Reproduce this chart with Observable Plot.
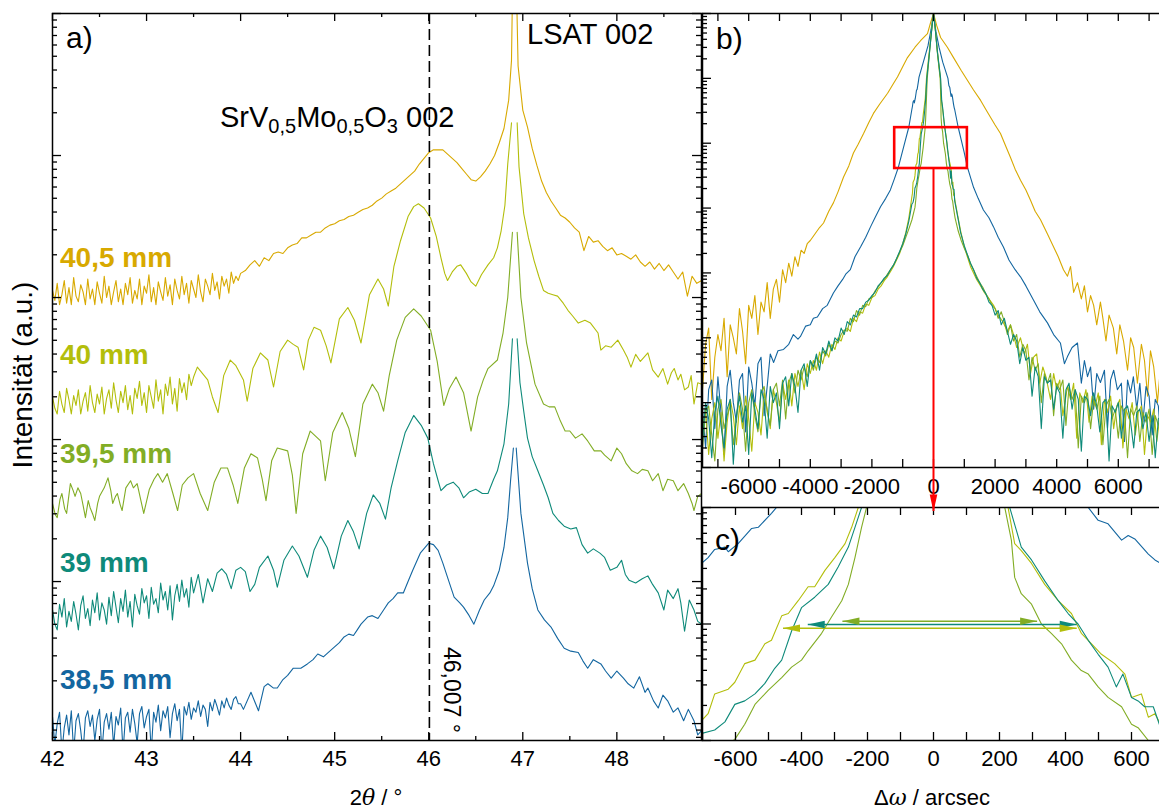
<!DOCTYPE html>
<html><head><meta charset="utf-8">
<script src="https://cdn.jsdelivr.net/npm/d3@7"></script>
<script src="https://cdn.jsdelivr.net/npm/@observablehq/plot@0.6"></script>
<style>
html,body{margin:0;padding:0;background:#fff;overflow:hidden;}
#wrap{position:relative;width:1159px;height:810px;overflow:hidden;font-family:"Liberation Sans",Arial,sans-serif;}
#wrap svg{position:absolute;}
.t{position:absolute;white-space:nowrap;line-height:1;color:#000;font-family:"Liberation Sans",Arial,sans-serif;}
</style></head><body><div id="wrap"></div>
<script>
// ---------- categories & colours ----------
const samples = ["40,5 mm", "40 mm", "39,5 mm", "39 mm", "38,5 mm"];
const colors  = ["#D8A900", "#B3BE0B", "#82AD25", "#0E8A7A", "#1366A0"];

// ---------- panel a: 2theta scans ----------
// noisy low-angle baselines: log10 intensity at 2theta = start + i*0.025 deg
const base405 = {start: 42, step: 0.025, lg: [4.05,3.98,4.10,3.95,4.02,4.12,3.96,4.07,3.95,4.14,4.01,3.97,4.09,4.04,3.95,4.13,3.99,4.06,3.95,4.11,
4.03,3.96,4.15,4.00,4.08,3.95,4.04,4.12,3.97,4.06,3.95,4.10,4.02,4.14,3.96,4.05,3.99,4.13,3.95,4.08,
4.03,4.16,3.97,4.07,3.95,4.11,4.04,3.98,4.14,4.01,4.09,3.95,4.13,4.05,3.99,4.15,4.02,4.10,3.96,4.12,
4.06,4.00,4.16,4.04,3.97,4.13,4.08,4.02,4.17,4.05,4.11,3.99,4.15,4.08,4.13,4.03,4.18,4.10,4.15,4.12]};
const base40 = {start: 42, step: 0.025, lg: [3.30,3.22,3.18,3.34,3.25,3.19,3.36,3.28,3.18,3.31,3.24,3.35,3.18,3.27,3.33,3.20,3.38,3.26,3.19,3.32,
3.25,3.37,3.18,3.29,3.35,3.22,3.40,3.28,3.19,3.34,3.26,3.38,3.21,3.31,3.18,3.36,3.29,3.41,3.24,3.33,
3.19,3.38,3.30,3.22,3.42,3.27,3.35,3.18,3.39,3.31,3.44,3.25,3.36,3.20,3.43,3.33,3.40,3.28,3.46,3.38]};
const base39 = {start: 42, step: 0.025, lg: [1.80,1.70,1.66,1.84,1.75,1.88,1.68,1.79,1.72,1.86,1.77,1.66,1.83,1.90,1.74,1.81,1.69,1.87,1.78,1.92,
1.73,1.85,1.80,1.70,1.89,1.76,1.93,1.82,1.71,1.88,1.79,1.94,1.75,1.86,1.68,1.91,1.83,1.77,1.95,1.85,
1.90,1.74,1.96,1.84,1.88,1.78,1.99,1.87,1.93,1.80,1.97,1.73,1.90,1.98,1.86,2.01,1.89,1.95,1.82,2.03]};
const base385 = {start: 42, step: 0.025, lg: [1.05,0.85,1.00,1.08,0.80,0.97,1.06,0.92,1.09,0.80,1.02,1.07,0.95,0.80,1.04,1.09,0.98,1.06,0.88,1.03,
1.10,0.80,1.01,1.07,0.96,1.08,0.84,1.05,0.99,1.11,0.80,1.04,1.08,0.94,1.10,1.00,0.86,1.07,1.12,0.97,
1.05,1.10,0.80,1.08,1.01,1.13,0.95,1.09,1.04,1.12,0.90,1.07,1.14,1.02,1.10,0.80,1.12,1.06,1.15,1.03,
1.11,1.08,1.16,1.05,1.13,1.10,0.98,1.15,1.09,1.17,1.12,1.06,1.16,1.11,1.18,1.13,1.10,1.17,1.19,1.14]};

// remaining parts: [2theta (deg), log10 intensity]; null = peak top cut off
const scan405 = [[44.00,4.17],[44.05,4.19],[44.10,4.23],[44.15,4.26],[44.20,4.22],[44.25,4.28],[44.30,4.26],[44.35,4.31],[44.40,4.32],[44.45,4.31],[44.50,4.35],[44.55,4.37],[44.60,4.38],[44.65,4.42],[44.70,4.42],[44.75,4.44],[44.80,4.46],[44.85,4.46],[44.90,4.49],[44.95,4.51],[45.00,4.52],[45.05,4.54],[45.10,4.55],[45.15,4.57],[45.20,4.58],[45.25,4.60],[45.30,4.62],[45.35,4.63],[45.40,4.65],[45.45,4.68],[45.50,4.70],[45.55,4.73],[45.60,4.75],[45.65,4.77],[45.70,4.80],[45.75,4.83],[45.80,4.86],[45.85,4.89],[45.90,4.94],[45.95,4.98],[46.00,5.02],[46.05,5.04],[46.10,5.04],[46.15,5.04],[46.20,5.01],[46.25,4.98],[46.30,4.95],[46.35,4.91],[46.40,4.87],[46.45,4.83],[46.50,4.82],[46.55,4.85],[46.60,4.89],[46.65,4.94],[46.70,5.00],[46.75,5.09],[46.80,5.19],[46.85,5.39],[46.88,5.67],[46.90,6.6],[46.92,6.6],[46.95,5.63],[47.00,5.32],[47.05,5.20],[47.10,5.05],[47.15,4.93],[47.20,4.82],[47.25,4.74],[47.30,4.68],[47.35,4.63],[47.40,4.58],[47.45,4.56],[47.50,4.53],[47.55,4.49],[47.60,4.46],[47.65,4.33],[47.70,4.43],[47.75,4.39],[47.80,4.40],[47.85,4.36],[47.90,4.33],[47.95,4.35],[48.00,4.30],[48.05,4.31],[48.10,4.29],[48.15,4.27],[48.20,4.30],[48.25,4.25],[48.30,4.22],[48.35,4.25],[48.40,4.20],[48.45,4.24],[48.50,4.19],[48.55,4.23],[48.60,4.18],[48.65,4.13],[48.70,4.18],[48.75,4.01],[48.80,4.15],[48.85,4.10],[48.90,4.12]];

const scan40 = [[43.50,3.44],[43.54,3.51],[43.60,3.46],[43.65,3.42],[43.70,3.30],[43.76,3.19],[43.82,3.45],[43.89,3.56],[43.95,3.52],[44.03,3.42],[44.07,3.27],[44.13,3.50],[44.21,3.61],[44.29,3.56],[44.35,3.37],[44.42,3.62],[44.50,3.70],[44.56,3.67],[44.61,3.65],[44.67,3.49],[44.72,3.70],[44.78,3.79],[44.85,3.77],[44.91,3.66],[44.96,3.54],[45.05,3.85],[45.14,3.93],[45.21,3.84],[45.28,3.68],[45.37,4.02],[45.46,4.13],[45.52,4.06],[45.57,3.94],[45.63,4.22],[45.70,4.40],[45.78,4.57],[45.84,4.64],[45.89,4.66],[45.95,4.63],[46.02,4.56],[46.08,4.43],[46.13,4.28],[46.17,4.17],[46.20,4.12],[46.25,4.18],[46.30,4.22],[46.34,4.23],[46.40,4.17],[46.45,4.11],[46.50,4.08],[46.56,4.16],[46.63,4.23],[46.69,4.28],[46.73,4.35],[46.77,4.47],[46.81,4.65],[46.84,4.94],[46.88,5.23],[46.91,null],[46.94,5.23],[46.96,4.92],[47.01,4.59],[47.06,4.42],[47.12,4.26],[47.17,4.15],[47.22,4.05],[47.27,4.03],[47.32,4.02],[47.37,4.01],[47.43,3.96],[47.48,3.91],[47.53,3.87],[47.59,3.82],[47.66,3.84],[47.72,3.82],[47.80,3.75],[47.83,3.63],[47.88,3.66],[47.94,3.65],[48.01,3.70],[48.07,3.63],[48.11,3.58],[48.15,3.51],[48.20,3.60],[48.25,3.55],[48.29,3.58],[48.33,3.61],[48.38,3.49],[48.44,3.44],[48.49,3.50],[48.54,3.39],[48.58,3.47],[48.61,3.50],[48.65,3.42],[48.68,3.46],[48.72,3.35],[48.76,3.37],[48.79,3.45],[48.82,3.25],[48.86,3.40],[48.90,3.39]];

const scan395 = [[42.00,2.55],[42.03,2.47],[42.05,2.45],[42.08,2.58],[42.10,2.62],[42.13,2.51],[42.15,2.48],[42.19,2.69],[42.22,2.64],[42.24,2.60],[42.27,2.66],[42.30,2.62],[42.33,2.52],[42.35,2.45],[42.38,2.57],[42.40,2.52],[42.43,2.47],[42.45,2.43],[42.48,2.55],[42.50,2.60],[42.55,2.66],[42.59,2.73],[42.62,2.64],[42.64,2.55],[42.67,2.60],[42.69,2.62],[42.72,2.54],[42.74,2.50],[42.78,2.66],[42.83,2.71],[42.86,2.66],[42.90,2.69],[42.97,2.48],[43.03,2.65],[43.08,2.72],[43.12,2.76],[43.17,2.70],[43.22,2.76],[43.28,2.62],[43.33,2.50],[43.38,2.68],[43.44,2.73],[43.50,2.76],[43.57,2.62],[43.65,2.50],[43.72,2.70],[43.79,2.80],[43.86,2.80],[43.92,2.68],[43.97,2.55],[44.04,2.80],[44.11,2.90],[44.18,2.87],[44.23,2.72],[44.27,2.57],[44.33,2.85],[44.39,2.94],[44.50,2.92],[44.55,2.75],[44.59,2.48],[44.66,2.90],[44.74,3.06],[44.85,2.99],[44.90,2.71],[44.98,3.05],[45.08,3.19],[45.15,3.08],[45.22,2.88],[45.30,3.25],[45.40,3.39],[45.46,3.33],[45.52,3.20],[45.58,3.45],[45.66,3.70],[45.75,3.86],[45.84,3.92],[45.92,3.87],[46.02,3.77],[46.09,3.55],[46.16,3.24],[46.22,3.36],[46.29,3.44],[46.37,3.33],[46.45,3.06],[46.52,3.30],[46.58,3.42],[46.63,3.50],[46.73,3.56],[46.79,3.75],[46.84,4.00],[46.89,4.46],[46.915,null],[46.94,4.46],[46.98,4.00],[47.04,3.68],[47.13,3.39],[47.22,3.25],[47.28,3.23],[47.34,3.23],[47.40,3.13],[47.45,3.06],[47.50,3.06],[47.56,3.01],[47.63,3.04],[47.69,2.99],[47.76,2.92],[47.83,2.92],[47.87,2.89],[47.94,2.85],[48.00,2.94],[48.05,2.90],[48.10,2.83],[48.16,2.78],[48.22,2.76],[48.27,2.79],[48.33,2.78],[48.38,2.71],[48.44,2.76],[48.49,2.64],[48.54,2.72],[48.60,2.71],[48.65,2.64],[48.71,2.69],[48.76,2.62],[48.80,2.55],[48.82,2.50],[48.86,2.60],[48.90,2.62]];

const scan39 = [[43.50,1.92],[43.55,2.05],[43.60,1.85],[43.65,2.02],[43.70,1.93],[43.75,2.06],[43.80,2.09],[43.85,2.05],[43.90,1.95],[43.95,2.08],[44.00,2.10],[44.05,2.07],[44.10,1.93],[44.15,1.98],[44.20,2.10],[44.29,2.18],[44.35,2.08],[44.39,1.96],[44.46,2.15],[44.55,2.25],[44.62,2.18],[44.71,2.03],[44.78,2.22],[44.85,2.32],[44.92,2.24],[44.99,2.09],[45.07,2.32],[45.14,2.43],[45.20,2.35],[45.26,2.23],[45.34,2.48],[45.41,2.61],[45.48,2.55],[45.54,2.44],[45.60,2.66],[45.67,2.85],[45.75,3.05],[45.84,3.17],[45.92,3.10],[45.99,3.01],[46.05,2.83],[46.10,2.71],[46.13,2.64],[46.19,2.68],[46.26,2.70],[46.32,2.66],[46.37,2.59],[46.43,2.63],[46.50,2.65],[46.57,2.62],[46.63,2.62],[46.69,2.72],[46.73,2.78],[46.80,2.97],[46.85,3.25],[46.89,3.71],[46.915,null],[46.94,3.71],[46.97,3.40],[47.01,3.20],[47.05,3.01],[47.10,2.88],[47.16,2.78],[47.22,2.68],[47.27,2.59],[47.32,2.48],[47.38,2.43],[47.44,2.39],[47.51,2.37],[47.57,2.38],[47.63,2.26],[47.69,2.20],[47.75,2.23],[47.82,2.20],[47.87,2.17],[47.93,2.08],[48.00,2.10],[48.05,2.15],[48.09,2.05],[48.13,2.01],[48.20,1.99],[48.27,2.02],[48.33,2.04],[48.38,1.98],[48.44,1.92],[48.50,1.80],[48.54,1.94],[48.60,1.88],[48.65,1.95],[48.68,1.85],[48.72,1.65],[48.77,1.87],[48.82,1.80],[48.86,1.72],[48.90,1.70]];

const scan385 = [[44.00,1.14],[44.03,1.10],[44.11,1.22],[44.19,1.09],[44.25,1.26],[44.29,1.28],[44.35,1.25],[44.39,1.25],[44.45,1.31],[44.50,1.34],[44.56,1.39],[44.64,1.39],[44.71,1.42],[44.77,1.45],[44.82,1.49],[44.88,1.47],[44.93,1.50],[44.99,1.535],[45.05,1.57],[45.10,1.61],[45.15,1.63],[45.20,1.62],[45.24,1.66],[45.28,1.70],[45.35,1.75],[45.40,1.76],[45.46,1.74],[45.52,1.80],[45.57,1.85],[45.62,1.88],[45.67,1.92],[45.73,1.92],[45.78,2.00],[45.83,2.08],[45.91,2.20],[46.00,2.27],[46.05,2.26],[46.10,2.22],[46.15,2.13],[46.20,2.03],[46.27,1.89],[46.33,1.85],[46.37,1.82],[46.43,1.76],[46.48,1.70],[46.54,1.80],[46.59,1.87],[46.65,1.92],[46.69,1.97],[46.75,2.08],[46.80,2.24],[46.84,2.45],[46.87,2.71],[46.90,2.94],[46.915,null],[46.93,2.94],[46.98,2.48],[47.05,2.13],[47.10,1.95],[47.16,1.80],[47.23,1.73],[47.30,1.68],[47.37,1.60],[47.44,1.53],[47.51,1.51],[47.59,1.50],[47.64,1.44],[47.69,1.39],[47.75,1.45],[47.83,1.42],[47.88,1.37],[47.94,1.32],[48.00,1.37],[48.07,1.32],[48.12,1.28],[48.18,1.25],[48.24,1.33],[48.30,1.22],[48.33,1.25],[48.39,1.16],[48.44,1.11],[48.49,1.20],[48.54,1.16],[48.60,1.08],[48.65,1.11],[48.71,1.02],[48.76,1.10],[48.82,1.02],[48.86,0.92],[48.90,0.95]];

// ---------- panels b & c: rocking curves, [delta omega (arcsec), log10 intensity] ----------
const rc405 = [[-7500,1.20],[-7400,1.90],[-7300,2.15],[-7200,1.05],[-7100,1.70],[-7000,2.05],[-6900,1.80],[-6800,2.30],[-6700,1.40],[-6600,2.20],[-6500,2.00],[-6400,1.75],[-6300,2.45],[-6200,2.10],[-6100,1.60],[-6000,2.50],[-5900,2.30],[-5800,2.65],[-5700,2.05],[-5600,2.55],[-5500,2.40],[-5400,2.85],[-5300,2.30],[-5200,2.75],[-5100,2.90],[-5000,2.55],[-4900,3.05],[-4800,2.85],[-4700,3.15],[-4600,2.95],[-4500,3.25],[-4400,3.10],[-4300,3.35],[-4200,3.30],[-4100,3.45],[-4000,3.50],[-3850,3.60],[-3700,3.70],[-3570,3.77],[-3400,3.95],[-3250,4.08],[-3100,4.25],[-2920,4.48],[-2750,4.65],[-2600,4.85],[-2450,4.98],[-2270,5.15],[-2100,5.32],[-1950,5.46],[-1750,5.60],[-1490,5.77],[-1300,5.92],[-1170,6.02],[-1000,6.18],[-845,6.32],[-600,6.48],[-420,6.58],[-300,6.64],[-195,6.69],[-100,6.85],[0,7.0],[100,6.82],[230,6.63],[450,6.48],[650,6.32],[900,6.12],[1100,5.97],[1300,5.82],[1530,5.66],[1700,5.52],[1850,5.40],[2000,5.28],[2175,5.15],[2350,4.95],[2500,4.78],[2650,4.60],[2825,4.43],[3000,4.28],[3150,4.12],[3300,3.95],[3475,3.82],[3700,3.60],[3900,3.40],[4050,3.25],[4220,3.05],[4350,2.95],[4450,3.10],[4550,2.70],[4675,2.85],[4800,2.60],[4900,2.80],[5000,2.40],[5100,2.65],[5200,2.50],[5300,2.20],[5420,2.55],[5500,2.30],[5600,1.95],[5700,2.35],[5840,2.15],[5950,1.75],[6050,2.20],[6170,1.95],[6300,1.50],[6400,2.00],[6500,1.85],[6620,1.30],[6750,1.90],[6850,1.65],[6950,1.10],[7045,1.80],[7150,1.55],[7270,1.00],[7400,1.70],[7500,1.45]];

const rc40 = [[-7500,0.55],[-7400,0.90],[-7300,0.20],[-7200,0.75],[-7100,1.00],[-7000,0.45],[-6900,0.85],[-6800,0.10],[-6700,0.70],[-6600,1.05],[-6500,0.80],[-6400,0.35],[-6300,0.95],[-6200,0.60],[-6100,1.10],[-6000,0.75],[-5900,0.25],[-5800,1.00],[-5700,0.85],[-5600,0.50],[-5500,1.15],[-5400,0.90],[-5300,0.60],[-5200,1.20],[-5100,1.00],[-5000,0.70],[-4900,1.30],[-4800,1.05],[-4700,1.35],[-4600,0.95],[-4500,1.45],[-4400,1.25],[-4300,1.50],[-4200,1.20],[-4100,1.60],[-4000,1.45],[-3900,1.65],[-3800,1.50],[-3700,1.78],[-3600,1.60],[-3500,1.80],[-3400,1.70],[-3300,1.90],[-3200,1.82],[-3100,2.00],[-3000,1.95],[-2900,2.10],[-2800,2.15],[-2700,2.10],[-2600,2.30],[-2500,2.25],[-2400,2.40],[-2300,2.38],[-2200,2.52],[-2100,2.50],[-2000,2.62],[-1900,2.65],[-1800,2.75],[-1700,2.80],[-1600,2.88],[-1500,2.94],[-1400,3.02],[-1300,3.10],[-1200,3.20],[-1100,3.30],[-1000,3.45],[-900,3.62],[-800,3.85],[-703,4.17],[-683,4.23],[-663,4.40],[-622,4.44],[-602,4.50],[-572,4.66],[-541,4.69],[-511,4.83],[-491,4.86],[-460,5.07],[-440,5.09],[-410,5.20],[-380,5.32],[-360,5.32],[-329,5.46],[-299,5.57],[-268,5.69],[-248,5.83],[-228,6.00],[-150,6.35],[-60,6.75],[0,7.0],[60,6.75],[150,6.30],[226,6.00],[246,5.69],[266,5.63],[297,5.52],[337,5.34],[378,5.20],[418,5.09],[448,4.92],[479,4.83],[509,4.74],[549,4.66],[580,4.57],[600,4.37],[630,4.40],[651,4.20],[671,4.23],[688,4.14],[780,3.90],[880,3.65],[1000,3.40],[1100,3.25],[1200,3.10],[1300,3.00],[1400,2.90],[1530,2.80],[1650,2.70],[1800,2.60],[1950,2.50],[2100,2.35],[2250,2.25],[2400,2.10],[2500,2.20],[2600,2.05],[2700,1.85],[2825,2.00],[2950,1.75],[3050,1.90],[3150,1.45],[3250,1.70],[3350,1.75],[3450,1.30],[3550,1.55],[3650,1.40],[3800,1.05],[3900,1.45],[4000,1.20],[4100,1.35],[4200,0.80],[4350,1.25],[4450,1.05],[4550,1.30],[4650,0.45],[4750,1.15],[4850,1.00],[4950,1.20],[5050,0.70],[5150,1.10],[5250,0.95],[5350,1.15],[5450,0.35],[5550,1.05],[5650,0.85],[5750,1.10],[5850,0.60],[5950,0.95],[6050,1.05],[6150,0.30],[6250,0.90],[6350,0.75],[6450,1.00],[6550,0.50],[6650,0.85],[6750,0.95],[6850,0.20],[6950,0.80],[7050,0.70],[7150,0.90],[7250,0.40],[7350,0.80],[7450,0.65],[7500,0.75]];

const rc395 = [[-7500,0.30],[-7400,0.85],[-7300,0.95],[-7200,0.50],[-7100,0.10],[-7000,0.90],[-6900,1.05],[-6800,0.60],[-6700,0.80],[-6600,0.95],[-6500,0.35],[-6400,0.75],[-6300,1.15],[-6200,0.90],[-6100,0.25],[-6000,1.00],[-5900,1.20],[-5800,0.80],[-5700,0.55],[-5600,1.15],[-5500,1.25],[-5400,0.85],[-5300,0.65],[-5200,1.20],[-5100,1.30],[-5000,0.95],[-4900,1.35],[-4800,0.75],[-4700,1.30],[-4600,1.45],[-4500,1.15],[-4400,1.50],[-4300,1.35],[-4200,1.55],[-4100,1.40],[-4000,1.65],[-3900,1.50],[-3800,1.70],[-3700,1.62],[-3600,1.80],[-3500,1.72],[-3400,1.90],[-3300,1.80],[-3200,1.95],[-3100,1.92],[-3000,2.05],[-2900,2.12],[-2800,2.10],[-2700,2.30],[-2600,2.25],[-2500,2.42],[-2400,2.35],[-2300,2.50],[-2200,2.48],[-2100,2.60],[-2000,2.62],[-1900,2.72],[-1800,2.78],[-1700,2.85],[-1600,2.90],[-1500,2.98],[-1400,3.05],[-1300,3.12],[-1200,3.22],[-1100,3.32],[-1000,3.42],[-900,3.55],[-800,3.68],[-700,3.82],[-602,4.01],[-572,4.14],[-541,4.31],[-501,4.43],[-460,4.54],[-430,4.63],[-400,4.69],[-380,4.77],[-339,4.92],[-309,5.06],[-278,5.20],[-258,5.34],[-238,5.57],[-218,5.83],[-203,6.00],[-120,6.45],[-50,6.80],[0,7.0],[50,6.80],[120,6.42],[216,6.00],[236,5.72],[246,5.40],[266,5.26],[297,5.17],[327,5.00],[357,4.92],[388,4.83],[418,4.69],[448,4.60],[469,4.57],[499,4.46],[529,4.37],[570,4.29],[600,4.14],[620,4.11],[651,4.00],[700,3.85],[800,3.65],[900,3.50],[1000,3.38],[1100,3.28],[1200,3.15],[1300,3.05],[1400,2.95],[1500,2.85],[1600,2.78],[1700,2.68],[1800,2.60],[1900,2.50],[2000,2.45],[2100,2.30],[2200,2.40],[2300,2.25],[2400,2.05],[2500,2.20],[2600,1.95],[2700,2.05],[2800,1.70],[2900,1.90],[3000,1.80],[3100,1.35],[3200,1.70],[3300,1.50],[3400,1.60],[3500,1.00],[3600,1.45],[3700,1.30],[3800,1.45],[3900,0.80],[4000,1.30],[4100,1.20],[4200,1.35],[4300,0.65],[4400,1.25],[4500,1.05],[4600,1.20],[4700,0.30],[4800,1.10],[4900,1.00],[5000,1.15],[5100,0.60],[5200,1.05],[5300,0.90],[5400,1.10],[5500,0.35],[5600,0.95],[5700,1.05],[5800,0.75],[5900,0.90],[6000,0.45],[6100,0.95],[6200,0.85],[6300,0.15],[6400,0.90],[6500,0.80],[6600,0.95],[6700,0.40],[6800,0.85],[6900,0.70],[7000,0.90],[7100,0.20],[7200,0.80],[7300,0.65],[7400,0.85],[7500,0.50]];

const rc39 = [[-7500,0.40],[-7400,1.00],[-7300,0.75],[-7200,0.15],[-7100,0.85],[-7000,1.10],[-6900,0.65],[-6800,0.30],[-6700,0.90],[-6600,1.05],[-6500,0.05],[-6400,0.80],[-6300,1.10],[-6200,0.70],[-6100,0.95],[-6000,0.20],[-5900,1.15],[-5800,0.90],[-5700,0.60],[-5600,1.20],[-5500,1.05],[-5400,0.45],[-5300,1.25],[-5200,1.00],[-5100,1.15],[-5000,0.60],[-4900,1.30],[-4800,1.40],[-4700,0.95],[-4600,1.45],[-4500,1.25],[-4400,0.85],[-4300,1.50],[-4200,1.60],[-4100,1.25],[-4000,1.65],[-3900,1.55],[-3800,1.75],[-3700,1.50],[-3600,1.85],[-3500,1.75],[-3400,1.95],[-3300,1.80],[-3200,2.00],[-3100,1.95],[-3000,2.15],[-2900,2.05],[-2800,2.25],[-2700,2.20],[-2600,2.35],[-2500,2.32],[-2400,2.45],[-2300,2.45],[-2200,2.55],[-2100,2.58],[-2000,2.65],[-1900,2.70],[-1800,2.80],[-1700,2.85],[-1600,2.92],[-1500,2.96],[-1400,3.05],[-1300,3.12],[-1200,3.22],[-1100,3.33],[-1000,3.45],[-900,3.60],[-800,3.80],[-703,4.06],[-663,4.09],[-632,4.16],[-602,4.31],[-572,4.34],[-541,4.40],[-511,4.49],[-481,4.62],[-460,4.69],[-430,4.94],[-400,5.14],[-360,5.23],[-319,5.34],[-289,5.49],[-258,5.66],[-238,5.83],[-218,6.00],[-130,6.40],[-50,6.78],[0,7.0],[50,6.80],[130,6.40],[231,6.00],[266,5.66],[297,5.55],[337,5.37],[378,5.20],[408,5.09],[438,5.00],[469,4.86],[499,4.74],[529,4.63],[554,4.46],[574,4.57],[600,4.37],[620,4.34],[640,4.29],[666,4.29],[688,4.11],[780,3.88],[880,3.62],[1000,3.42],[1100,3.28],[1200,3.15],[1300,3.05],[1400,2.92],[1500,2.85],[1600,2.75],[1700,2.68],[1800,2.55],[1900,2.50],[2000,2.35],[2100,2.42],[2200,2.20],[2300,2.30],[2400,2.10],[2500,1.90],[2600,2.05],[2700,1.95],[2800,1.60],[2900,1.85],[3000,1.65],[3100,1.70],[3200,1.10],[3300,1.55],[3400,1.40],[3500,0.60],[3600,1.40],[3700,1.30],[3800,1.35],[3900,0.90],[4000,1.25],[4100,1.15],[4200,0.45],[4300,1.20],[4400,1.30],[4500,0.90],[4600,1.20],[4700,1.05],[4800,0.25],[4900,1.10],[5000,1.05],[5100,0.80],[5200,1.15],[5300,0.95],[5400,0.55],[5500,1.00],[5600,1.05],[5700,0.10],[5800,0.95],[5900,0.85],[6000,1.00],[6100,0.45],[6200,0.90],[6300,0.95],[6400,0.70],[6500,0.30],[6600,0.85],[6700,0.90],[6800,0.60],[6900,0.85],[7000,0.40],[7100,0.80],[7200,0.15],[7300,0.75],[7400,0.80],[7500,0.45]];

const rc385 = [[-7500,0.90],[-7400,0.30],[-7300,1.20],[-7200,1.35],[-7100,0.60],[-7000,1.40],[-6900,0.85],[-6800,0.20],[-6700,1.25],[-6600,1.50],[-6500,1.00],[-6400,0.70],[-6300,1.35],[-6200,1.45],[-6100,0.55],[-6000,1.55],[-5900,1.30],[-5800,0.95],[-5700,1.60],[-5600,1.70],[-5500,0.80],[-5400,1.25],[-5300,1.75],[-5190,1.62],[-5050,1.80],[-4870,1.82],[-4700,1.90],[-4550,2.05],[-4400,1.98],[-4320,2.02],[-4150,2.18],[-4000,2.20],[-3900,2.30],[-3770,2.32],[-3600,2.45],[-3450,2.50],[-3250,2.69],[-3100,2.80],[-2950,2.90],[-2850,2.98],[-2700,3.05],[-2550,3.25],[-2370,3.40],[-2200,3.55],[-2045,3.71],[-1900,3.85],[-1720,4.02],[-1550,4.15],[-1400,4.28],[-1270,4.45],[-1140,4.63],[-1020,4.85],[-910,5.05],[-800,5.25],[-703,5.52],[-683,5.57],[-663,5.64],[-632,5.66],[-622,5.62],[-592,5.69],[-551,5.82],[-531,5.83],[-491,5.95],[-470,6.02],[-300,6.30],[-180,6.50],[-80,6.75],[0,7.0],[80,6.72],[180,6.48],[300,6.25],[469,6.00],[499,5.89],[529,5.86],[570,5.72],[590,5.76],[610,5.73],[651,5.60],[671,5.55],[688,5.52],[800,5.25],[900,5.05],[1000,4.85],[1100,4.63],[1300,4.32],[1450,4.15],[1620,3.97],[1800,3.85],[1950,3.71],[2100,3.55],[2270,3.40],[2450,3.20],[2650,3.05],[2825,2.94],[3000,2.80],[3250,2.58],[3450,2.40],[3700,2.23],[3900,2.05],[4120,1.92],[4250,1.60],[4350,1.71],[4500,1.85],[4675,1.92],[4800,1.30],[4900,1.65],[5000,1.40],[5100,1.55],[5200,0.90],[5300,1.45],[5420,1.31],[5550,1.50],[5650,0.60],[5750,1.35],[5850,1.50],[5970,1.20],[6100,1.30],[6200,0.40],[6300,1.35],[6400,1.15],[6490,1.40],[6600,0.90],[6700,1.30],[6800,0.70],[6900,1.25],[7000,1.10],[7100,0.50],[7200,1.05],[7300,0.95],[7400,0.30],[7500,0.85]];

// ---------- annotations ----------
const peakPosition = 46.007;                 // deg, dashed line
const twoThetaTicks = [42, 43, 44, 45, 46, 47, 48];
const omegaTicksB = [-6000, -4000, -2000, 0, 2000, 4000, 6000];
const omegaTicksC = [-600, -400, -200, 0, 200, 400, 600];
const zoomBox = {x1: -1260, x2: 1100, lg1: 4.61, lg2: 5.24};
const zoomArrow = {x: 0, lgFrom: 4.61, lgTo: -0.68};
const widthArrows = [
  {sample: "39,5 mm", left: -276, right: 314, lg: 5.024},
  {sample: "39 mm",   left: -381, right: 434, lg: 4.996},
  {sample: "40 mm",   left: -456, right: 434, lg: 4.964}
];

// ---------- build tables ----------
const toRows = (arr, sample) => arr.map(([x, lg]) => ({x, y: lg == null ? NaN : Math.pow(10, lg), sample}));
const baseRows = (b, sample) => b.lg.map((lg, i) => ({x: b.start + i * b.step, y: Math.pow(10, lg), sample}));
const scanRows = [].concat(
  baseRows(base405, samples[0]), toRows(scan405, samples[0]),
  baseRows(base40, samples[1]), toRows(scan40, samples[1]),
  toRows(scan395, samples[2]),
  baseRows(base39, samples[3]), toRows(scan39, samples[3]),
  baseRows(base385, samples[4]), toRows(scan385, samples[4]));
const rcRows = [].concat(toRows(rc405, samples[0]), toRows(rc385, samples[4]), toRows(rc40, samples[1]), toRows(rc395, samples[2]), toRows(rc39, samples[3]));
const color = {domain: samples, range: colors};
const colorOf = s => colors[samples.indexOf(s)];

function logTicks(lo, hi) {
  const major = [], minor = [];
  for (let e = Math.floor(Math.log10(lo)); e <= Math.ceil(Math.log10(hi)); e++) {
    const b = Math.pow(10, e);
    if (b >= lo * 0.999 && b <= hi * 1.001) major.push(b);
    for (let m = 2; m < 10; m++) { const v = m * b; if (v >= lo && v <= hi) minor.push(v); }
  }
  return {major, minor};
}
function range(a, b, s) { const r = []; for (let v = a; v <= b + 1e-9; v += s) r.push(+v.toFixed(6)); return r; }

const font = '"Liberation Sans", Arial, sans-serif';
const baseStyle = {background: "transparent", overflow: "visible", maxWidth: "none", fontFamily: font, fontSize: "22px", color: "#000"};

function frameTicks({xMajor, xMinor, yMajor, yMinor, W, H, left = true, right = true}) {
  const M = 8, m = 4, sw = 1.3;
  const out = [
    Plot.tickX(xMajor, {x: d => d, insetTop: H - M, strokeWidth: sw}),
    Plot.tickX(xMajor, {x: d => d, insetBottom: H - M, strokeWidth: sw}),
    Plot.tickX(xMinor, {x: d => d, insetTop: H - m, strokeWidth: sw}),
    Plot.tickX(xMinor, {x: d => d, insetBottom: H - m, strokeWidth: sw})
  ];
  if (left) out.push(
    Plot.tickY(yMajor, {y: d => d, insetRight: W - M - 1, strokeWidth: sw}),
    Plot.tickY(yMinor, {y: d => d, insetRight: W - m - 1, strokeWidth: sw}));
  if (right) out.push(
    Plot.tickY(yMajor, {y: d => d, insetLeft: W - M - 1, strokeWidth: sw}),
    Plot.tickY(yMinor, {y: d => d, insetLeft: W - m - 1, strokeWidth: sw}));
  return out;
}

const wrap = document.getElementById("wrap");
function place(svg, left, top, z) { svg.style.left = left + "px"; svg.style.top = top + "px"; svg.style.zIndex = z; wrap.appendChild(svg); }

// ---------- panel c ----------
{
  const W = 462, H = 233;
  const yt = logTicks(1e4, 1e6);
  const headL = {draw(c) { c.moveTo(0, 0); c.lineTo(17, -3.8); c.lineTo(17, 3.8); c.closePath(); }};
  const headR = {draw(c) { c.moveTo(0, 0); c.lineTo(-17, -3.8); c.lineTo(-17, 3.8); c.closePath(); }};
  const arrows = widthArrows.map(d => ({...d, y: Math.pow(10, d.lg)}));
  const p = Plot.plot({
    width: 50 + W + 10, height: 10 + H + 70,
    marginLeft: 50, marginRight: 10, marginTop: 10, marginBottom: 70,
    x: {domain: [-700, 700]}, y: {type: "log", domain: [1e4, 1e6], axis: null},
    color, style: baseStyle,
    marks: [
      Plot.line(rcRows, {x: "x", y: "y", z: "sample", stroke: "sample", strokeWidth: 1.1, clip: true}),
      Plot.link(arrows, {x1: "left", x2: "right", y1: "y", y2: "y", stroke: d => colorOf(d.sample), strokeWidth: 1.6}),
      Plot.dot(arrows, {x: "left", y: "y", symbol: headL, fill: d => colorOf(d.sample), stroke: "none"}),
      Plot.dot(arrows, {x: "right", y: "y", symbol: headR, fill: d => colorOf(d.sample), stroke: "none"}),
      ...frameTicks({xMajor: range(-700, 700, 100), xMinor: [], yMajor: yt.major, yMinor: yt.minor, W, H, right: false}),
      Plot.axisX(omegaTicksC, {tickSize: 0, tickPadding: 10, tickFormat: d => String(d), label: null, fontSize: 22}),
      Plot.frame({stroke: "#000", strokeWidth: 1.5})
    ]
  });
  place(p, 652, 497, 1);
}

// ---------- panel a ----------
{
  const W = 649, H = 727;
  const yt = logTicks(7.6, 1e6);
  const p = Plot.plot({
    width: 52 + W + 1, height: 13 + H + 70,
    marginLeft: 52, marginRight: 1, marginTop: 13, marginBottom: 70,
    x: {domain: [42, 48.9]}, y: {type: "log", domain: [7.6, 1e6], axis: null},
    color, style: baseStyle,
    marks: [
      Plot.line(scanRows, {x: "x", y: "y", z: "sample", stroke: "sample", strokeWidth: 1.1, clip: true}),
      Plot.ruleX([peakPosition], {stroke: "#000", strokeWidth: 1.6, strokeDasharray: "11,5"}),
      ...frameTicks({xMajor: twoThetaTicks, xMinor: range(42.5, 48.5, 1), yMajor: yt.major, yMinor: yt.minor, W, H}),
      Plot.axisX(twoThetaTicks, {tickSize: 0, tickPadding: 10, tickFormat: d => String(d), label: null, fontSize: 22}),
      Plot.frame({stroke: "#000", strokeWidth: 1.5})
    ]
  });
  place(p, 0, 0, 2);
}

// ---------- panel b ----------
{
  const W = 462, H = 454;
  const yt = logTicks(1, 1e7);
  const headDown = {draw(c) { c.moveTo(0, 0); c.lineTo(-3.8, -17); c.lineTo(3.8, -17); c.closePath(); }};
  const box = [{x1: zoomBox.x1, x2: zoomBox.x2, y1: Math.pow(10, zoomBox.lg1), y2: Math.pow(10, zoomBox.lg2)}];
  const arr = [{x: zoomArrow.x, from: Math.pow(10, zoomArrow.lgFrom), to: Math.pow(10, zoomArrow.lgTo)}];
  const p = Plot.plot({
    width: 50 + W + 10, height: 13 + H + 60,
    marginLeft: 50, marginRight: 10, marginTop: 13, marginBottom: 60,
    x: {domain: [-7500, 7500]}, y: {type: "log", domain: [1, 1e7], axis: null},
    color, style: baseStyle,
    marks: [
      Plot.line(rcRows, {x: "x", y: "y", z: "sample", stroke: "sample", strokeWidth: 1.1, clip: true}),
      ...frameTicks({xMajor: range(-7000, 7000, 1000), xMinor: [], yMajor: yt.major, yMinor: yt.minor, W, H, right: false}),
      Plot.axisX(omegaTicksB, {tickSize: 0, tickPadding: 11, tickFormat: d => String(d), label: null, fontSize: 22}),
      Plot.frame({stroke: "#000", strokeWidth: 1.5}),
      Plot.rect(box, {x1: "x1", x2: "x2", y1: "y1", y2: "y2", fill: "none", stroke: "#FF0000", strokeWidth: 2.6}),
      Plot.ruleX(arr, {x: "x", y1: "from", y2: "to", stroke: "#FF0000", strokeWidth: 2}),
      Plot.dot(arr, {x: "x", y: "to", symbol: headDown, fill: "#FF0000", stroke: "none"})
    ]
  });
  place(p, 652, 0, 3);
}

// ---------- text ----------
function text(html, {left, top, size = 22, weight = 400, color = "#000", center = false, rotate = 0}) {
  const d = document.createElement("div");
  d.className = "t";
  d.innerHTML = html;
  d.style.left = left + "px"; d.style.top = top + "px";
  d.style.fontSize = size + "px"; d.style.fontWeight = weight; d.style.color = color; d.style.zIndex = 5;
  if (center) d.style.transform = `translate(-50%,-50%) rotate(${rotate}deg)`;
  wrap.appendChild(d);
}
const bl = (b, s) => b - 0.85 * s; // baseline -> top
text("a)", {left: 66, top: bl(48, 30), size: 30});
text("b)", {left: 716, top: bl(49, 30), size: 30});
text("c)", {left: 715, top: bl(550, 30), size: 30});
text("LSAT 002", {left: 527, top: bl(45, 29), size: 29});
const sub = 'style="font-size:20px;vertical-align:-6px"';
text(`SrV<sub ${sub}>0,5</sub>Mo<sub ${sub}>0,5</sub>O<sub ${sub}>3</sub> 002`, {left: 220, top: bl(128, 29), size: 29});
const labelBaselines = [268, 365, 464, 573, 690];
samples.forEach((s, i) => text(s, {left: 60, top: bl(labelBaselines[i], 28), size: 28, weight: 700, color: colors[i]}));
text("Intensität (a.u.)", {left: 23, top: 375, size: 28, center: true, rotate: -90});
text("46,007 °", {left: 451, top: 690, size: 23, center: true, rotate: 90});
text('2<i style="font-family:\'DejaVu Serif\',serif">θ</i> / °', {left: 376, top: 798, size: 22, center: true});
text('Δ<i style="font-family:\'DejaVu Serif\',serif">ω</i> / arcsec', {left: 932, top: 798, size: 22, center: true});
</script></body></html>
